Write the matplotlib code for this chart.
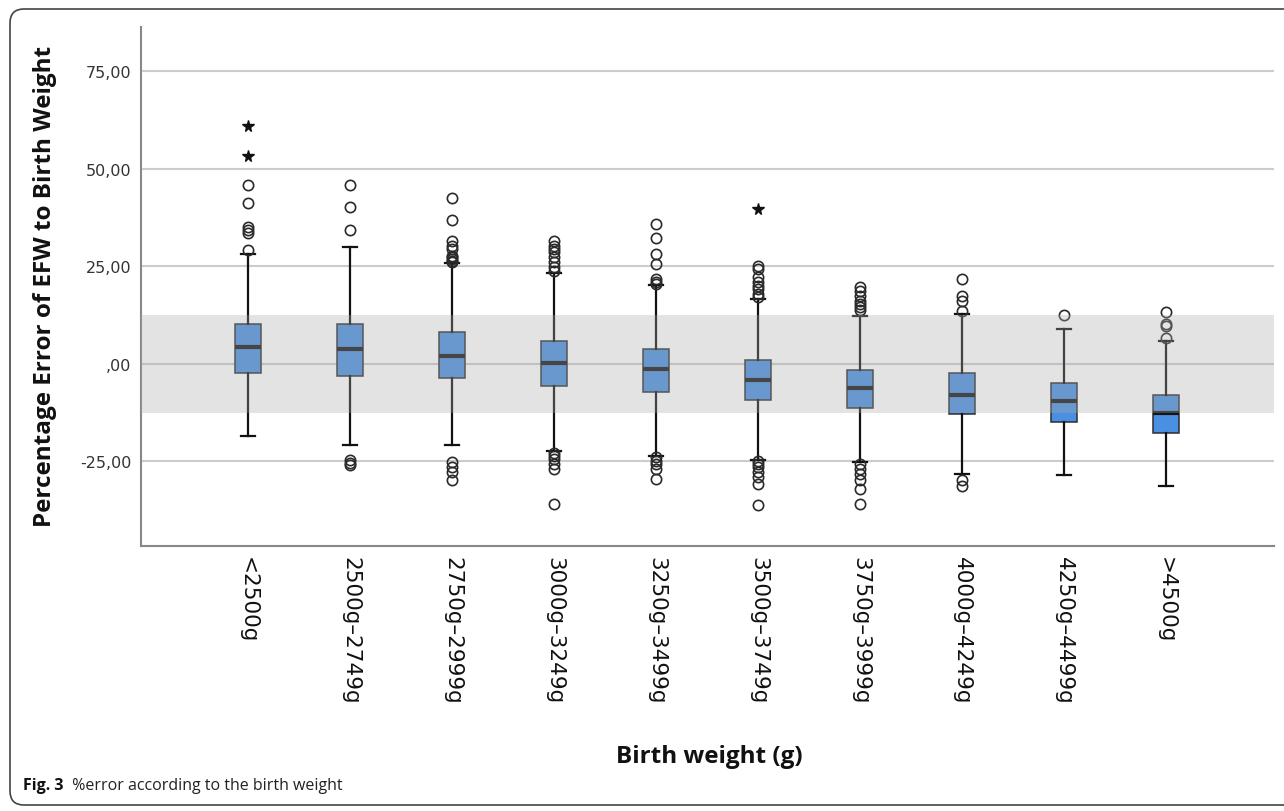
import numpy as np
import matplotlib.pyplot as plt
from matplotlib.patches import FancyBboxPatch
from matplotlib.transforms import IdentityTransform

# box summary per birth weight group
categories = ["<2500g", "2500g–2749g", "2750g–2999g", "3000g–3249g", "3250g–3499g",
              "3500g–3749g", "3750g–3999g", "4000g–4249g", "4250g–4499g", ">4500g"]
medians = [4.4, 3.8, 2.1, 0.3, -1.3, -4.1, -6.2, -7.9, -9.6, -12.6]
q1 = [-2.3, -3.1, -3.6, -5.6, -7.2, -9.2, -11.3, -12.8, -14.8, -17.7]
q3 = [10.3, 10.3, 8.2, 5.9, 3.8, 1.0, -1.5, -2.4, -4.9, -7.9]
whis_lo = [-18.4, -20.8, -20.8, -22.3, -23.6, -24.6, -25.2, -28.2, -28.6, -31.2]
whis_hi = [28.3, 30.1, 25.8, 23.3, 20.2, 16.6, 12.4, 12.8, 9.0, 5.8]

# outliers (circles)
outliers = [
    [29.2, 33.5, 34.3, 35.2, 41.2, 46.0],
    [34.4, 40.2, 46.0, -24.6, -25.3, -26.0],
    [26.1, 26.5, 26.9, 27.3, 27.8, 29.5, 30.3, 31.6, 37.0, 42.6,
     -25.2, -26.5, -27.8, -29.7],
    [23.8, 24.8, 26.1, 27.3, 28.6, 29.5, 30.3, 31.6,
     -22.8, -23.6, -24.4, -25.6, -26.9, -35.9],
    [20.5, 21.1, 21.8, 25.6, 28.2, 32.2, 35.9,
     -23.9, -24.8, -25.6, -26.9, -29.5],
    [17.1, 17.9, 19.2, 20.1, 20.9, 22.4, 24.4, 25.2,
     -24.8, -25.6, -26.5, -27.8, -29.1, -30.8, -36.2],
    [13.7, 14.5, 15.4, 16.2, 17.5, 18.8, 19.7,
     -25.6, -26.9, -28.2, -29.9, -32.1, -35.9],
    [13.5, 16.2, 17.5, 21.9, -29.7, -31.2],
    [12.6],
    [6.6, 9.6, 10.3, 13.4],
]
# extreme values (stars)
extreme_cat = [0, 0, 5]
extreme_val = [53.2, 61.1, 39.7]

yticks = [-25, 0, 25, 50, 75]
ytick_labels = ["-25,00", ",00", "25,00", "50,00", "75,00"]

W, H = 1284, 812
fig = plt.figure(figsize=(W / 100, H / 100), dpi=100)
ax = fig.add_axes([141 / W, 1 - 547 / H, (1274 - 141) / W, (547 - 28) / H])

x = np.arange(len(categories))
stats = []
for i in range(len(categories)):
    stats.append(dict(med=medians[i], q1=q1[i], q3=q3[i],
                      whislo=whis_lo[i], whishi=whis_hi[i], fliers=outliers[i]))

ax.bxp(stats, positions=x, widths=0.26, capwidths=0.14, patch_artist=True,
       boxprops=dict(facecolor="#4a90e2", edgecolor="#2e2e2e", linewidth=1.1),
       medianprops=dict(color="#151515", linewidth=3),
       whiskerprops=dict(color="#111111", linewidth=1.6),
       capprops=dict(color="#111111", linewidth=1.6),
       flierprops=dict(marker="o", markerfacecolor="none", markeredgecolor="#2a2a2a",
                       markersize=7.4, markeredgewidth=1.2))
ax.plot(extreme_cat, extreme_val, ls="none", marker="*", color="#111111", ms=8.5)

# shaded +/-12.5 band drawn over the boxes
ax.axhspan(-12.5, 12.5, color="#aaaaaa", alpha=0.33, lw=0, zorder=5)

ax.set_xlim(-1.05, 10.06)
ax.set_ylim(-46.7, 86.4)
ax.set_yticks(yticks)
ax.set_yticklabels(ytick_labels, fontsize=11.5, color="#333333")
ax.set_xticks(x)
ax.set_xticklabels(categories, rotation=270, ha="center", va="top",
                   fontsize=15.5, color="#111111")
ax.tick_params(axis="both", length=0)
ax.tick_params(axis="y", pad=7)
ax.tick_params(axis="x", pad=7)
ax.yaxis.grid(True, color="#cccccc", lw=1.5)
ax.set_axisbelow(True)
for s in ["top", "right"]:
    ax.spines[s].set_visible(False)
for s in ["left", "bottom"]:
    ax.spines[s].set_color("#888888")
    ax.spines[s].set_linewidth(1.5)

fig.text(45 / W, 1 - 286 / H, "Percentage Error of EFW to Birth Weight", rotation=90,
         ha="center", va="center", fontsize=17.5, fontweight="bold",
         family="Open Sans", color="#111111")
fig.text(709 / W, 1 - 757 / H, "Birth weight (g)", ha="center", va="center",
         fontsize=17.5, fontweight="bold", family="Open Sans", color="#111111")

# caption
t1 = fig.text(23 / W, 1 - 786 / H, "Fig. 3", ha="left", va="center",
              fontsize=11.5, fontweight="bold", family="Open Sans", color="#111111")
ax.annotate("  %error according to the birth weight", xy=(1, 0.5), xycoords=t1,
            ha="left", va="center", fontsize=11.5, family="Open Sans",
            color="#222222", annotation_clip=False)

# rounded frame around the figure
frame = FancyBboxPatch((10, 6), 1400, 796, boxstyle="round,pad=0,rounding_size=14",
                       transform=IdentityTransform(), facecolor="none",
                       edgecolor="#444444", lw=1.2)
fig.add_artist(frame)

fig.savefig("out.png", dpi=100)
